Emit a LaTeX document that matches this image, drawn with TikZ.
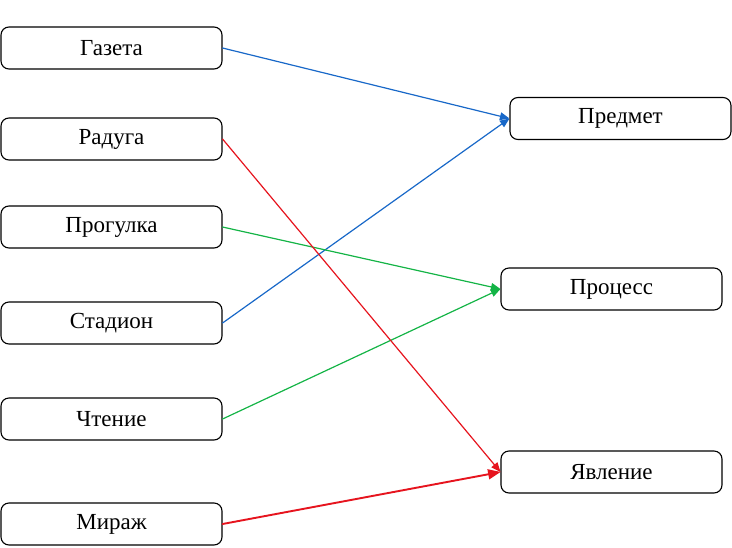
\documentclass[tikz,border=0pt]{standalone}
\usepackage{fontspec}
\setmainfont{Liberation Serif}
\usetikzlibrary{arrows}

\definecolor{linkblue}{RGB}{24,104,200}
\definecolor{linkgreen}{RGB}{20,180,70}
\definecolor{linkred}{RGB}{230,20,30}

\tikzset{
  wordbox/.style={draw,line width=1.1pt,rounded corners=8pt,minimum width=221pt,minimum height=42pt,inner sep=0pt,font=\fontsize{23}{27}\selectfont},
  link/.style={->,line width=1.2pt}
}

\begin{document}
\begin{tikzpicture}[line cap=round,line join=round,>=triangle 45,x=1pt,y=-1pt]
      \useasboundingbox (0,0) rectangle (732,547);
      % left column
      \node[wordbox] (gazeta) at (111.5,48) {\raisebox{-2pt}{Газета}};
      \node[wordbox] (raduga) at (111.5,139) {\raisebox{-2pt}{Радуга}};
      \node[wordbox] (progulka) at (111.5,227) {\raisebox{-2pt}{Прогулка}};
      \node[wordbox] (stadion) at (111.5,323) {\raisebox{-2pt}{Стадион}};
      \node[wordbox] (chtenie) at (111.5,419) {\raisebox{-2pt}{Чтение}};
      \node[wordbox] (mirazh) at (111.5,524) {\raisebox{-2pt}{Мираж}};
      % right column
      \node[wordbox] (predmet) at (620.5,118.5) {\raisebox{-2pt}{Предмет}};
      \node[wordbox] (protsess) at (611.5,289) {\raisebox{-2pt}{Процесс}};
      \node[wordbox] (yavlenie) at (611.5,472) {\raisebox{-2pt}{Явление}};
      % links
      \draw [link,color=linkblue] (gazeta.east) -- (predmet.west);
      \draw [link,color=linkblue] (stadion.east) -- (predmet.west);
      \draw [link,color=linkgreen] (progulka.east) -- (protsess.west);
      \draw [link,color=linkgreen] (chtenie.east) -- (protsess.west);
      \draw [link,color=linkred] (raduga.east) -- (yavlenie.west);
      \draw [link,color=linkred,line width=1.9pt] (mirazh.east) -- (yavlenie.west);
\end{tikzpicture}
\end{document}
